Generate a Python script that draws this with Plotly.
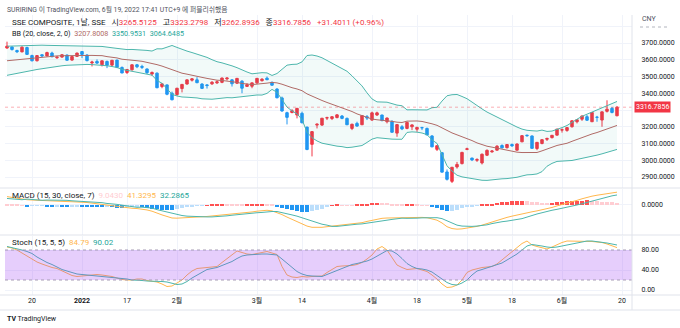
import plotly.graph_objects as go

# ---- SSE Composite, daily ----
dates = [
    "2021-12-13", "2021-12-14", "2021-12-15", "2021-12-16", "2021-12-17", "2021-12-20", "2021-12-21",
    "2021-12-22", "2021-12-23", "2021-12-24", "2021-12-27", "2021-12-28", "2021-12-29", "2021-12-30",
    "2021-12-31",
    "2022-01-04", "2022-01-05", "2022-01-06", "2022-01-07", "2022-01-10", "2022-01-11", "2022-01-12",
    "2022-01-13", "2022-01-14", "2022-01-17", "2022-01-18", "2022-01-19", "2022-01-20", "2022-01-21",
    "2022-01-24", "2022-01-25", "2022-01-26", "2022-01-27", "2022-01-28",
    "2022-02-07", "2022-02-08", "2022-02-09", "2022-02-10", "2022-02-11", "2022-02-14", "2022-02-15",
    "2022-02-16", "2022-02-17", "2022-02-18", "2022-02-21", "2022-02-22", "2022-02-23", "2022-02-24",
    "2022-02-25", "2022-02-28",
    "2022-03-01", "2022-03-02", "2022-03-03", "2022-03-04", "2022-03-07", "2022-03-08", "2022-03-09",
    "2022-03-10", "2022-03-11", "2022-03-14", "2022-03-15", "2022-03-16", "2022-03-17", "2022-03-18",
    "2022-03-21", "2022-03-22", "2022-03-23", "2022-03-24", "2022-03-25", "2022-03-28", "2022-03-29",
    "2022-03-30", "2022-03-31",
    "2022-04-01", "2022-04-06", "2022-04-07", "2022-04-08", "2022-04-11", "2022-04-12", "2022-04-13",
    "2022-04-14", "2022-04-15", "2022-04-18", "2022-04-19", "2022-04-20", "2022-04-21", "2022-04-22",
    "2022-04-25", "2022-04-26", "2022-04-27", "2022-04-28", "2022-04-29",
    "2022-05-05", "2022-05-06", "2022-05-09", "2022-05-10", "2022-05-11", "2022-05-12", "2022-05-13",
    "2022-05-16", "2022-05-17", "2022-05-18", "2022-05-19", "2022-05-20", "2022-05-23", "2022-05-24",
    "2022-05-25", "2022-05-26", "2022-05-27", "2022-05-30", "2022-05-31",
    "2022-06-01", "2022-06-02", "2022-06-06", "2022-06-07", "2022-06-08", "2022-06-09", "2022-06-10",
    "2022-06-13", "2022-06-14", "2022-06-15", "2022-06-16", "2022-06-17",
]

opens = [
    3670, 3676, 3655, 3647, 3673, 3625, 3594, 3630, 3623, 3640, 3612, 3616, 3628, 3598, 3620,
    3649, 3628, 3581, 3590, 3570, 3590, 3568, 3598, 3554, 3524, 3540, 3570, 3560, 3545, 3515, 3520, 3440, 3450, 3400,
    3392, 3428, 3455, 3478, 3480, 3455, 3450, 3456, 3462, 3465, 3486, 3480, 3460, 3472, 3441, 3442,
    3462, 3475, 3490, 3465, 3425, 3372, 3284, 3285, 3270, 3280, 3198, 3095, 3210, 3210, 3252, 3249, 3255, 3264,
    3250, 3190, 3220, 3212, 3260,
    3240, 3270, 3270, 3230, 3230, 3162, 3200, 3190, 3200, 3185, 3195, 3190, 3145, 3065, 3045, 2930, 2874, 2960, 2980,
    3065, 3013, 3000, 2984, 3030, 3050, 3060, 3088, 3075, 3094, 3060, 3110, 3150, 3145, 3070, 3100, 3125, 3135, 3150,
    3180, 3178, 3200, 3230, 3245, 3260, 3230, 3257, 3240, 3292, 3310, 3265.5125,
]
highs = [
    3708, 3680, 3660, 3680, 3678, 3630, 3626, 3632, 3648, 3648, 3620, 3632, 3631, 3622, 3642,
    3652, 3633, 3594, 3602, 3594, 3595, 3598, 3600, 3560, 3545, 3572, 3575, 3570, 3548, 3530, 3524, 3460, 3452, 3410,
    3432, 3455, 3482, 3490, 3496, 3460, 3455, 3472, 3476, 3493, 3493, 3484, 3490, 3478, 3460, 3463,
    3490, 3490, 3500, 3470, 3430, 3380, 3290, 3305, 3312, 3290, 3200, 3173, 3220, 3252, 3260, 3262, 3275, 3270,
    3255, 3218, 3230, 3268, 3270,
    3290, 3290, 3272, 3255, 3240, 3215, 3210, 3230, 3215, 3200, 3200, 3195, 3150, 3090, 3048, 2945, 2960, 2990, 3050,
    3075, 3015, 3012, 3040, 3065, 3060, 3090, 3095, 3095, 3100, 3100, 3148, 3152, 3148, 3108, 3125, 3135, 3150, 3187,
    3190, 3196, 3237, 3245, 3268, 3270, 3286, 3265, 3290, 3358, 3318, 3323.2798,
]
lows = [
    3666, 3655, 3640, 3645, 3630, 3590, 3590, 3615, 3620, 3615, 3605, 3612, 3595, 3594, 3618,
    3610, 3590, 3560, 3575, 3560, 3550, 3560, 3550, 3520, 3515, 3535, 3550, 3545, 3515, 3505, 3430, 3430, 3388, 3358,
    3385, 3405, 3452, 3470, 3460, 3425, 3428, 3450, 3455, 3460, 3476, 3440, 3455, 3400, 3438, 3430,
    3455, 3470, 3478, 3445, 3370, 3290, 3214, 3280, 3250, 3220, 3060, 3023, 3190, 3205, 3240, 3240, 3250, 3245,
    3210, 3180, 3200, 3210, 3240,
    3235, 3265, 3232, 3220, 3165, 3140, 3180, 3185, 3180, 3170, 3180, 3150, 3078, 3055, 2928, 2879, 2864, 2950, 2975,
    3060, 2995, 2990, 2975, 3025, 3045, 3058, 3070, 3070, 3080, 3058, 3108, 3140, 3070, 3060, 3095, 3115, 3130, 3148,
    3165, 3170, 3195, 3220, 3235, 3235, 3228, 3230, 3200, 3285, 3280, 3262.8936,
]
closes = [
    3681, 3661, 3648, 3675, 3632, 3594, 3625, 3623, 3643, 3618, 3616, 3630, 3597, 3619, 3640,
    3632, 3595, 3586, 3580, 3594, 3567, 3597, 3555, 3521, 3542, 3570, 3558, 3555, 3523, 3524, 3433, 3456, 3394, 3361,
    3430, 3453, 3480, 3486, 3463, 3429, 3446, 3466, 3468, 3491, 3491, 3457, 3489, 3430, 3451, 3462,
    3489, 3484, 3481, 3448, 3373, 3294, 3256, 3296, 3310, 3224, 3064, 3171, 3215, 3251, 3254, 3260, 3271, 3250,
    3212, 3215, 3204, 3267, 3252,
    3283, 3283, 3237, 3252, 3167, 3213, 3187, 3226, 3211, 3196, 3194, 3151, 3080, 3087, 2929, 2886, 2958, 2975, 3047,
    3068, 3002, 3004, 3036, 3059, 3055, 3084, 3074, 3094, 3086, 3097, 3147, 3147, 3071, 3107, 3123, 3130, 3149, 3186,
    3182, 3195, 3236, 3242, 3264, 3239, 3285, 3256, 3289, 3305, 3285.3845, 3316.7856,
]

# ---- Bollinger Bands (20, close, 2) ----
bb_basis = [
    3594, 3597, 3600, 3604, 3608, 3612, 3615, 3617, 3619, 3621,
    3623, 3624, 3625, 3626, 3627, 3627, 3627, 3626, 3625, 3624.5,
    3618.8, 3615.6, 3610.9, 3603.2, 3598.7, 3597.5, 3594.2, 3590.8, 3584.8, 3580.0,
    3570.9, 3562.2, 3552.0, 3539.2, 3528.7, 3519.7, 3514.0, 3509.0, 3503.1, 3494.9,
    3488.8, 3482.3, 3477.9, 3476.4, 3473.9, 3468.2, 3464.8, 3458.5, 3454.9, 3451.8,
    3454.6, 3456.0, 3460.4, 3464.7, 3461.9, 3453.9, 3442.7, 3433.2, 3425.6, 3415.3,
    3396.2, 3381.5, 3368.8, 3356.8, 3345.0, 3335.1, 3324.2, 3315.2, 3303.3, 3290.9,
    3276.7, 3265.8, 3254.4, 3246.1, 3241.6, 3238.8, 3238.6, 3232.1, 3227.3, 3225.4,
    3233.5, 3235.5, 3234.6, 3231.7, 3226.6, 3217.6, 3208.4, 3192.3, 3176.0, 3163.2,
    3151.7, 3140.7, 3131.5, 3117.5, 3103.5, 3093.5, 3083.8, 3078.2, 3071.8, 3066.1,
    3059.5, 3053.3, 3048.3, 3046.0, 3045.8, 3045.3, 3046.3, 3056.0, 3068.2, 3077.8,
    3088.3, 3095.0, 3101.4, 3113.1, 3125.0, 3136.4, 3145.4, 3156.9, 3165.5, 3176.3,
    3186.8, 3196.8, 3207.8008,
]
bb_upper = [
    3681, 3682, 3683, 3684, 3686, 3688, 3688, 3687, 3686, 3685,
    3685, 3684, 3683, 3683, 3683, 3682, 3682, 3681, 3680, 3679.5,
    3673.4, 3671.6, 3667.9, 3663.8, 3660.7, 3661.5, 3660.9, 3658.8, 3655.8, 3652.0,
    3665.4, 3665.0, 3676.8, 3685.2, 3673.7, 3661.7, 3651.7, 3643.0, 3634.1, 3622.9,
    3614.1, 3600.3, 3588.4, 3581.4, 3573.9, 3563.6, 3552.8, 3538.5, 3526.9, 3516.0,
    3519.6, 3522.8, 3521.6, 3506.2, 3517.9, 3545.9, 3567.7, 3572.2, 3573.6, 3587.3,
    3625.2, 3628.3, 3622.4, 3611.8, 3595.0, 3580.1, 3564.2, 3549.2, 3531.3, 3503.9,
    3472.7, 3443.8, 3402.4, 3366.1, 3348.6, 3346.8, 3346.6, 3338.1, 3329.3, 3325.4,
    3301.0, 3301.5, 3301.6, 3300.7, 3300.3, 3313.6, 3316.4, 3353.3, 3385.0, 3391.2,
    3392.7, 3380.7, 3367.5, 3347.5, 3325.5, 3306.5, 3287.8, 3272.2, 3257.8, 3243.1,
    3228.5, 3213.3, 3198.3, 3186.0, 3178.8, 3176.3, 3174.3, 3180.0, 3172.2, 3174.2,
    3183.6, 3195.0, 3207.4, 3227.6, 3245.0, 3262.4, 3274.4, 3289.4, 3300.5, 3314.3,
    3326.8, 3338.8, 3350.9531,
]
bb_lower = [
    3507, 3512, 3517, 3524, 3530, 3536, 3542, 3547, 3552, 3557,
    3561, 3564, 3567, 3569, 3571, 3572, 3572, 3571, 3570, 3569.5,
    3564.2, 3559.6, 3553.9, 3542.6, 3536.7, 3533.5, 3527.5, 3522.8, 3513.8, 3508.0,
    3476.4, 3459.4, 3427.2, 3393.2, 3383.7, 3377.7, 3376.3, 3375.0, 3372.1, 3366.9,
    3363.5, 3364.3, 3367.4, 3371.4, 3373.9, 3372.8, 3376.8, 3378.5, 3382.9, 3387.6,
    3389.6, 3389.2, 3399.2, 3423.2, 3405.9, 3361.9, 3317.7, 3294.2, 3277.6, 3243.3,
    3167.2, 3134.7, 3115.2, 3101.8, 3095.0, 3090.1, 3084.2, 3081.2, 3075.3, 3077.9,
    3080.7, 3087.8, 3106.4, 3126.1, 3134.6, 3130.8, 3130.6, 3126.1, 3125.3, 3125.4,
    3166.0, 3169.5, 3167.6, 3162.7, 3152.9, 3121.6, 3100.4, 3031.3, 2967.0, 2935.2,
    2910.7, 2900.7, 2895.5, 2887.5, 2881.5, 2880.5, 2879.8, 2884.2, 2885.8, 2889.1,
    2890.5, 2893.3, 2898.3, 2906.0, 2912.8, 2914.3, 2918.3, 2932.0, 2964.2, 2981.4,
    2993.0, 2995.0, 2995.4, 2998.6, 3005.0, 3010.4, 3016.4, 3024.4, 3030.5, 3038.3,
    3046.8, 3054.8, 3064.6485,
]

# ---- MACD (15, 30, close, 7) ----
macd_line = [
    27, 24, 21, 18.5, 17, 16, 15, 14.5, 14, 13, 12.5, 12, 11, 10.5, 10, 9, 8, 6, 4, 2,
    0, -2, -5, -8, -9.5, -10.5, -11.5, -13, -16, -20, -27, -32, -37, -42, -42.5, -42, -41, -40, -39, -38,
    -37, -35.5, -34, -32.5, -31, -30, -28.5, -27, -25, -22.5, -20, -18, -17, -19, -24, -31, -39, -46, -53, -61,
    -68, -72, -73, -72, -70, -68, -67, -65.5, -64, -62, -60, -57, -53, -49, -45.5, -43, -42, -41.5, -41, -40.5,
    -40, -40, -40, -40, -41, -44, -49, -58, -70, -76, -78, -77, -75, -72, -69, -65, -60, -54, -48, -44,
    -40, -36, -32, -28, -25, -22, -19, -16, -12, -8, -3, 1, 5, 10, 15, 20, 25, 28.5, 31.5, 34.5,
    37, 39.5, 41.3295,
]
macd_signal = [
    21, 19.5, 18, 17, 19, 17.5, 16, 15.3, 16, 16, 15, 15.5, 15, 13.5, 12.5, 12.5, 12, 10.5, 9, 7.5,
    5, 4, 2, -0.5, -3.5, -5.5, -7.5, -7, -8, -10, -15, -19, -23.5, -28, -31.5, -34, -36, -37, -37.5, -37.5,
    -38.5, -38.5, -38, -37.5, -35, -33, -31, -29, -28, -26.5, -25, -24, -22, -21, -21, -24, -28, -32, -36, -41,
    -47, -53, -58, -62, -65, -69, -69, -67, -65, -62.5, -62, -61, -59, -57, -54.5, -51, -49, -46.5, -44, -42.5,
    -43, -43.5, -42.5, -41.5, -41.5, -41, -41, -44, -51, -59, -65, -68, -69, -69, -68, -67, -64, -60, -56, -54,
    -52, -50, -47, -44, -39, -33, -29, -25, -20, -17, -14, -11, -8, -4, 0, 4, 8.5, 13.5, 18.5, 22.5,
    26, 29.5, 32.2865,
]
macd_hist = [
    6, 4.5, 3, 1.5, -2, -1.5, -1, -0.8, -2, -3, -2.5, -3.5, -4, -3, -2.5, -3.5, -4, -4.5, -5, -5.5,
    -5, -6, -7, -7.5, -6, -5, -4, -6, -8, -10, -12, -13, -13.5, -14, -11, -8, -5, -3, -1.5, -0.5,
    1.5, 3, 4, 5, 4, 3, 2.5, 2, 3, 4, 5, 6, 5, 2, -3, -7, -11, -14, -17, -20,
    -21, -19, -15, -10, -5, 1, 2, 1.5, 1, 0.5, 2, 4, 6, 8, 9, 8, 7, 5, 3, 2,
    3, 3.5, 2.5, 1.5, 0.5, -3, -8, -14, -19, -17, -13, -9, -6, -3, -1, 2, 4, 6, 8, 10,
    12, 14, 15, 16, 14, 11, 10, 9, 8, 9, 11, 12, 13, 14, 15, 16, 16.5, 15, 13, 12,
    11, 10, 9.0430,
]

# ---- Stochastic (15, 5, 5) ----
stoch_k = [
    86, 84, 80, 74, 68, 61, 56, 52, 48, 45, 43, 38, 33, 29, 27, 28, 30, 30, 31, 30,
    29, 27, 24, 21, 20, 20, 22, 22, 19, 17, 16, 12, 7, 8, 14, 20, 30, 38, 43, 44,
    45, 46, 47, 55, 63, 70, 78, 75, 72, 71, 73, 76, 77, 74, 71, 47, 30, 26, 25, 27,
    26, 27, 27, 28, 35, 41, 47, 48, 48, 49, 51, 55, 62, 70, 82, 87, 80, 65, 50, 45,
    41, 42, 43, 40, 37, 30, 22, 12, 5, 6, 10, 20, 35, 40, 43, 45, 46, 47, 52, 60,
    68, 76, 85, 93, 98, 90, 87, 84, 82, 86, 91, 95, 98, 98, 98, 98, 98, 97, 96, 95,
    92, 88, 84.79,
]
stoch_d = [
    87, 85, 83, 80, 77, 73, 66, 60, 55, 51, 46, 41, 38, 35, 32, 31, 30, 29, 29, 28,
    27, 26, 25, 23, 22, 20, 20, 19, 18, 18, 17, 17, 16, 14, 11, 12, 17, 24, 30, 36,
    41, 43, 45, 49, 53, 57, 63, 68, 70, 71, 71, 72, 72, 71, 70, 62, 53, 45, 37, 32,
    29, 28, 27, 27, 31, 35, 40, 44, 48, 51, 53, 55, 58, 62, 68, 74, 79, 78, 72, 63,
    53, 47, 43, 42, 40, 36, 29, 22, 15, 11, 10, 14, 20, 30, 38, 41, 44, 47, 51, 54,
    60, 66, 72, 80, 88, 91, 90, 88, 86, 85, 86, 88, 91, 93, 95, 97, 98, 98, 97, 96,
    94, 92, 90.02,
]

# ---- time scale labels ----
tick_dates = ["2021-12-20", "2022-01-04", "2022-01-17", "2022-02-07", "2022-03-01", "2022-03-14",
              "2022-04-01", "2022-04-18", "2022-05-05", "2022-05-18", "2022-06-01", "2022-06-20"]
tick_labels = ["20", "<b>2022</b>", "17", "2월", "3월", "14", "4월", "18", "5월", "18", "6월", "20"]

price_ticks = [2900, 3000, 3100, 3200, 3300, 3400, 3500, 3600, 3700, 3800]
price_tick_text = ["2900.0000", "3000.0000", "3100.0000", "3200.0000", "", "3400.0000",
                   "3500.0000", "3600.0000", "3700.0000", ""]

# ---------------------------------------------------------------
n = len(dates)
xs = list(range(n))
pos = {d: i for i, d in enumerate(dates)}
tick_pos = [pos.get(d, n) for d in tick_dates]

UP = "#F23645"
DOWN = "#2196F3"
TEAL = "#4DB6AC"
BASIS = "#B06A66"
ORANGE = "#FFB74D"
GRID = "#F0F3FA"
BORDER = "#E0E3EB"
TXT = "#131722"
FONT = "Roboto, 'Noto Sans CJK KR', sans-serif"

# plot-area geometry in pixels (used for placing texts and separators)
L, R, T, B = 5, 632, 15, 295


def px(x):
    return (x - L) / (R - L)


def py(y):
    return (B - y) / (B - T)


fig = go.Figure()

# Bollinger Bands
fig.add_trace(go.Scatter(x=xs, y=bb_upper, mode="lines", line=dict(color=TEAL, width=1),
                         xaxis="x", yaxis="y", hoverinfo="skip"))
fig.add_trace(go.Scatter(x=xs, y=bb_lower, mode="lines", line=dict(color=TEAL, width=1),
                         fill="tonexty", fillcolor="rgba(38,166,154,0.06)",
                         xaxis="x", yaxis="y", hoverinfo="skip"))
fig.add_trace(go.Scatter(x=xs, y=bb_basis, mode="lines", line=dict(color=BASIS, width=1),
                         xaxis="x", yaxis="y", hoverinfo="skip"))

# candles
fig.add_trace(go.Candlestick(
    x=xs, open=opens, high=highs, low=lows, close=closes,
    increasing=dict(line=dict(color=UP, width=1), fillcolor=UP),
    decreasing=dict(line=dict(color=DOWN, width=1), fillcolor=DOWN),
    whiskerwidth=0, xaxis="x", yaxis="y", hoverinfo="skip",
))

# MACD histogram colours: strong when moving away from zero, pale when moving back
hist_colors = []
for i, h in enumerate(macd_hist):
    prev = macd_hist[i - 1] if i > 0 else h
    if h >= 0:
        hist_colors.append("#FF5252" if h > prev else "#FFCDD2")
    else:
        hist_colors.append("#2196F3" if h < prev else "#BBDEFB")

fig.add_trace(go.Bar(x=xs, y=macd_hist, marker=dict(color=hist_colors, line=dict(width=0)),
                     width=0.75, xaxis="x2", yaxis="y2", hoverinfo="skip"))
fig.add_trace(go.Scatter(x=xs, y=macd_line, mode="lines", line=dict(color=ORANGE, width=1),
                         xaxis="x2", yaxis="y2", hoverinfo="skip"))
fig.add_trace(go.Scatter(x=xs, y=macd_signal, mode="lines", line=dict(color=TEAL, width=1),
                         xaxis="x2", yaxis="y2", hoverinfo="skip"))

# Stochastic
fig.add_trace(go.Scatter(x=xs, y=stoch_k, mode="lines", line=dict(color=ORANGE, width=1),
                         xaxis="x3", yaxis="y3", hoverinfo="skip"))
fig.add_trace(go.Scatter(x=xs, y=stoch_d, mode="lines", line=dict(color=TEAL, width=1),
                         xaxis="x3", yaxis="y3", hoverinfo="skip"))

xrange = [-0.4, 125]
xcommon = dict(range=xrange, tickvals=tick_pos, showgrid=True, gridcolor=GRID, gridwidth=1,
               zeroline=False, showline=False, ticks="", fixedrange=True)
ycommon = dict(side="right", showgrid=True, gridcolor=GRID, zeroline=False, showline=False,
               ticks="outside", ticklen=7, tickcolor="rgba(0,0,0,0)",
               tickfont=dict(size=7, color=TXT, family=FONT), fixedrange=True)

fig.update_layout(
    width=680, height=328,
    margin=dict(l=L, r=680 - R, t=T, b=328 - B),
    paper_bgcolor="white", plot_bgcolor="white",
    showlegend=False,
    font=dict(family=FONT, size=7, color=TXT),
    xaxis=dict(domain=[0, 1], anchor="y", showticklabels=False,
               rangeslider=dict(visible=False), **xcommon),
    xaxis2=dict(domain=[0, 1], anchor="y2", showticklabels=False, matches="x", **xcommon),
    xaxis3=dict(domain=[0, 1], anchor="y3", showticklabels=True, matches="x",
                ticktext=tick_labels, tickfont=dict(size=7, color=TXT, family=FONT), **xcommon),
    yaxis=dict(domain=[py(187.5), 1], range=[2837.3, 3867.2], tickvals=price_ticks,
               ticktext=price_tick_text, **ycommon),
    yaxis2=dict(domain=[py(234.5), py(188.5)], range=[-95.2, 53.2], tickvals=[0],
                ticktext=["0.0000"], **ycommon),
    yaxis3=dict(domain=[0, py(235.5)], range=[-10, 109], tickvals=[0, 40, 80],
                ticktext=["0.00", "40.00", "80.00"], **ycommon),
    bargap=0,
)

shapes = []
# stochastic band 20..80 (tinted overlay) and its dotted edges
shapes.append(dict(type="rect", xref="x3 domain", yref="y3", x0=0, x1=1, y0=20, y1=80,
                   fillcolor="rgba(155,60,245,0.25)", line=dict(width=0), layer="above"))
for lvl in (20, 80):
    shapes.append(dict(type="line", xref="x3 domain", yref="y3", x0=0, x1=1, y0=lvl, y1=lvl,
                       line=dict(color="#A79DB5", width=1, dash="dot"), layer="above"))
# last-price line
shapes.append(dict(type="line", xref="x domain", yref="y", x0=0, x1=1,
                   y0=closes[-1], y1=closes[-1],
                   line=dict(color="rgba(242,54,69,0.4)", width=1, dash="dot")))
# pane separators and frame
for yy in (188, 235, 295):
    shapes.append(dict(type="line", xref="paper", yref="paper", x0=px(0), x1=px(680),
                       y0=py(yy), y1=py(yy), line=dict(color=BORDER, width=1)))
shapes.append(dict(type="line", xref="paper", yref="paper", x0=1, x1=1, y0=py(15), y1=py(310),
                   line=dict(color=BORDER, width=1)))
shapes.append(dict(type="line", xref="paper", yref="paper", x0=px(0), x1=px(680),
                   y0=py(310), y1=py(310), line=dict(color=BORDER, width=1)))
# dotted underline of the currency label
shapes.append(dict(type="line", xref="paper", yref="paper", x0=px(640), x1=px(668),
                   y0=py(27), y1=py(27), line=dict(color="#B2B5BE", width=1, dash="dot")))
fig.update_layout(shapes=shapes)

NB = "\u00a0"


def span(txt, col):
    return f"<span style='color:{col}'>{txt}</span>"


chg = closes[-1] - closes[-2]
pct = chg / closes[-2] * 100
ohlc_col = UP if closes[-1] >= opens[-1] else DOWN
G3 = NB * 3
legend_main = (
    f"SSE COMPOSITE, 1날, SSE{G3}"
    f"시{span(f'{opens[-1]:.4f}', ohlc_col)}{G3}"
    f"고{span(f'{highs[-1]:.4f}', ohlc_col)}{G3}"
    f"저{span(f'{lows[-1]:.4f}', ohlc_col)}{G3}"
    f"종{span(f'{closes[-1]:.4f}', ohlc_col)}{G3}"
    + span(f"{chg:+.4f} ({pct:+.2f}%)", ohlc_col)
)
legend_bb = (
    f"BB (20, close, 2, 0){NB}{NB}" + span(f"{bb_basis[-1]:.4f}", BASIS) + NB + NB
    + span(f"{bb_upper[-1]:.4f}", "#26A69A") + NB + NB + span(f"{bb_lower[-1]:.4f}", "#26A69A")
)
legend_macd = (
    f"MACD (15, 30, close, 7){NB}{NB}" + span(f"{macd_hist[-1]:.4f}", "#FFCDD2") + NB + NB
    + span(f"{macd_line[-1]:.4f}", ORANGE) + NB + NB + span(f"{macd_signal[-1]:.4f}", "#26A69A")
)
legend_stoch = (
    f"Stoch (15, 5, 5){NB}{NB}" + span(f"{stoch_k[-1]:.2f}", ORANGE) + NB + NB
    + span(f"{stoch_d[-1]:.2f}", "#26A69A")
)

annotations = [
    dict(text="SURIRING 이 TradingView.com, 6월 19, 2022 17:41 UTC+9 에 퍼블리쉬했음",
         x=px(5), y=py(9), font=dict(size=6.8, color="#50535E")),
    dict(text=legend_main, x=px(10), y=py(22), font=dict(size=8, color=TXT)),
    dict(text=legend_bb, x=px(10), y=py(33), font=dict(size=7.2, color=TXT)),
    dict(text=legend_macd, x=px(10), y=py(196), font=dict(size=8, color=TXT)),
    dict(text=legend_stoch, x=px(10), y=py(242), font=dict(size=8, color=TXT)),
    dict(text="CNY", x=px(640), y=py(19), font=dict(size=7, color="#50535E")),
    dict(text="<b>TV</b> TradingView", x=px(5), y=py(319), font=dict(size=7, color=TXT)),
]
for a in annotations:
    a.update(xref="paper", yref="paper", xanchor="left", yanchor="middle", showarrow=False)

# last-price tag on the price scale
annotations.append(dict(text=f"{closes[-1]:.4f}", xref="paper", yref="y", x=px(634), y=closes[-1],
                        xanchor="left", yanchor="middle", showarrow=False, bgcolor=UP,
                        font=dict(size=7, color="white", family=FONT), borderpad=1))
fig.update_layout(annotations=annotations)

fig.write_html("out.html")
